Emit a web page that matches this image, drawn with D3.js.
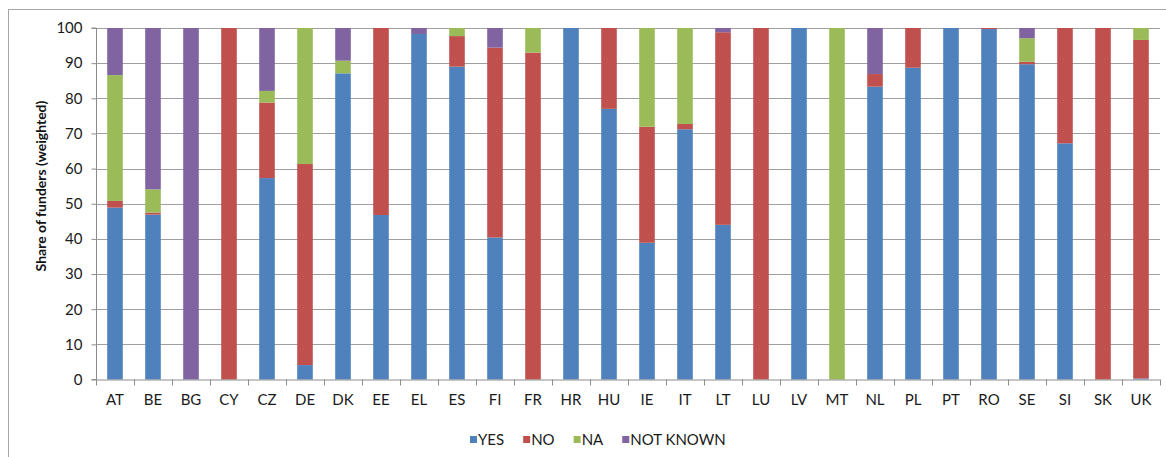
<!DOCTYPE html>
<html>
<head>
<meta charset="utf-8">
<script src="https://cdn.jsdelivr.net/npm/d3@7"></script>
<style>
  html, body { margin: 0; padding: 0; background: #fff; }
  svg { display: block; font-family: Lato, "Open Sans", sans-serif; }
</style>
</head>
<body>
<script>
const categories = ["AT","BE","BG","CY","CZ","DE","DK","EE","EL","ES","FI","FR","HR","HU","IE","IT","LT","LU","LV","MT","NL","PL","PT","RO","SE","SI","SK","UK"];
const yesValues = [48.9,46.9,0,0,57.3,4.1,87.1,46.8,98.3,89.0,40.4,0,100,77.0,38.9,71.2,44.0,0,100,0,83.3,88.7,100,99.7,89.7,67.2,0,0.3];
const noValues  = [1.9,0.6,0,100,21.5,57.2,0,53.2,0,8.7,54.0,93.0,0,23.0,33.0,1.5,54.8,100,0,0,3.6,11.3,0,0.3,0.7,32.8,100,96.3];
const naValues  = [35.8,6.6,0,0,3.3,38.7,3.6,0,0,2.3,0,7.0,0,0,28.1,27.3,0,0,0,100,0,0,0,0,6.7,0,0,3.4];
const nkValues  = [13.4,45.9,100,0,17.9,0,9.3,0,1.7,0,5.6,0,0,0,0,0,1.2,0,0,0,13.1,0,0,0,2.9,0,0,0];
const seriesNames = ["YES","NO","NA","NOT KNOWN"];
const yTicks = [0,10,20,30,40,50,60,70,80,90,100];
const yTitle = "Share of funders (weighted)";

const colors = ["#4F81BD","#C0504D","#9BBB59","#8064A2"];
const W = 1166, H = 457;
const pL = 96, pR = 1160, pT = 28, pB = 379.5;

const svg = d3.select("body").append("svg").attr("width", W).attr("height", H);

// outer border
svg.append("rect").attr("x", 8.5).attr("y", 9.5).attr("width", 1170).attr("height", 460)
  .attr("fill", "none").attr("stroke", "#a6a6a6").attr("stroke-width", 1);

const rows = categories.map((c, i) => ({cat: c, YES: yesValues[i], NO: noValues[i], NA: naValues[i], "NOT KNOWN": nkValues[i]}));

const x = d3.scaleBand().domain(categories).range([pL, pR]).paddingInner(0.59).paddingOuter(0.295);
const y = d3.scaleLinear().domain([0, 100]).range([pB, pT]);

// gridlines
svg.append("g").selectAll("line").data(yTicks.filter(d => d > 0)).join("line")
  .attr("x1", pL).attr("x2", pR)
  .attr("y1", d => Math.round(y(d)) + 0.5).attr("y2", d => Math.round(y(d)) + 0.5)
  .attr("stroke", "#a0a0a0").attr("stroke-width", 1);

// bars
const stack = d3.stack().keys(seriesNames)(rows);
svg.append("g").selectAll("g").data(stack).join("g")
  .attr("fill", (d, i) => colors[i])
  .selectAll("rect").data(d => d).join("rect")
  .attr("x", d => x(d.data.cat))
  .attr("width", x.bandwidth())
  .attr("y", d => y(d[1]))
  .attr("height", d => Math.max(0, y(d[0]) - y(d[1])));

// y axis
const yAxis = d3.axisLeft(y).tickValues(yTicks).tickSize(5).tickPadding(9);
const gy = svg.append("g").attr("transform", `translate(${pL + 0.5},0)`).call(yAxis);
gy.select(".domain").attr("stroke", "#8c8c8c").attr("d", `M-5,${pT}H0V${pB}H-5`);
gy.selectAll(".tick line").attr("stroke", "#8c8c8c");
gy.selectAll(".tick text").attr("font-size", 15).attr("fill", "#1a1a1a").attr("font-family", "Lato");

// x axis
const xAxis = d3.axisBottom(x).tickSize(0).tickPadding(15);
const gx = svg.append("g").attr("transform", `translate(0,${pB})`).call(xAxis);
gx.select(".domain").attr("stroke", "#8c8c8c").attr("d", `M${pL},0.5H${pR}`);
gx.selectAll(".tick text").attr("font-size", 15).attr("fill", "#1a1a1a").attr("font-family", "Lato");
// boundary ticks
const bounds = categories.map(c => x(c) - x.step() * x.paddingInner() / 2).concat([pR]);
gx.append("g").selectAll("line").data(bounds).join("line")
  .attr("x1", d => Math.round(d) + 0.5).attr("x2", d => Math.round(d) + 0.5)
  .attr("y1", 0).attr("y2", 6).attr("stroke", "#8c8c8c");

// y title
svg.append("text").attr("transform", `translate(46,186) rotate(-90)`)
  .attr("text-anchor", "middle").attr("font-size", 14).attr("font-weight", "bold")
  .attr("fill", "#111").text(yTitle);

// legend
const lg = svg.append("g");
let lx = 470;
seriesNames.forEach((name, i) => {
  lg.append("rect").attr("x", lx).attr("y", 436).attr("width", 7).attr("height", 7).attr("fill", colors[i]);
  const t = lg.append("text").attr("x", lx + 8).attr("y", 445).attr("font-size", 15)
    .attr("fill", "#1a1a1a").text(name);
  lx = lx + 8 + t.node().getComputedTextLength() + 19;
});
</script>
</body>
</html>
